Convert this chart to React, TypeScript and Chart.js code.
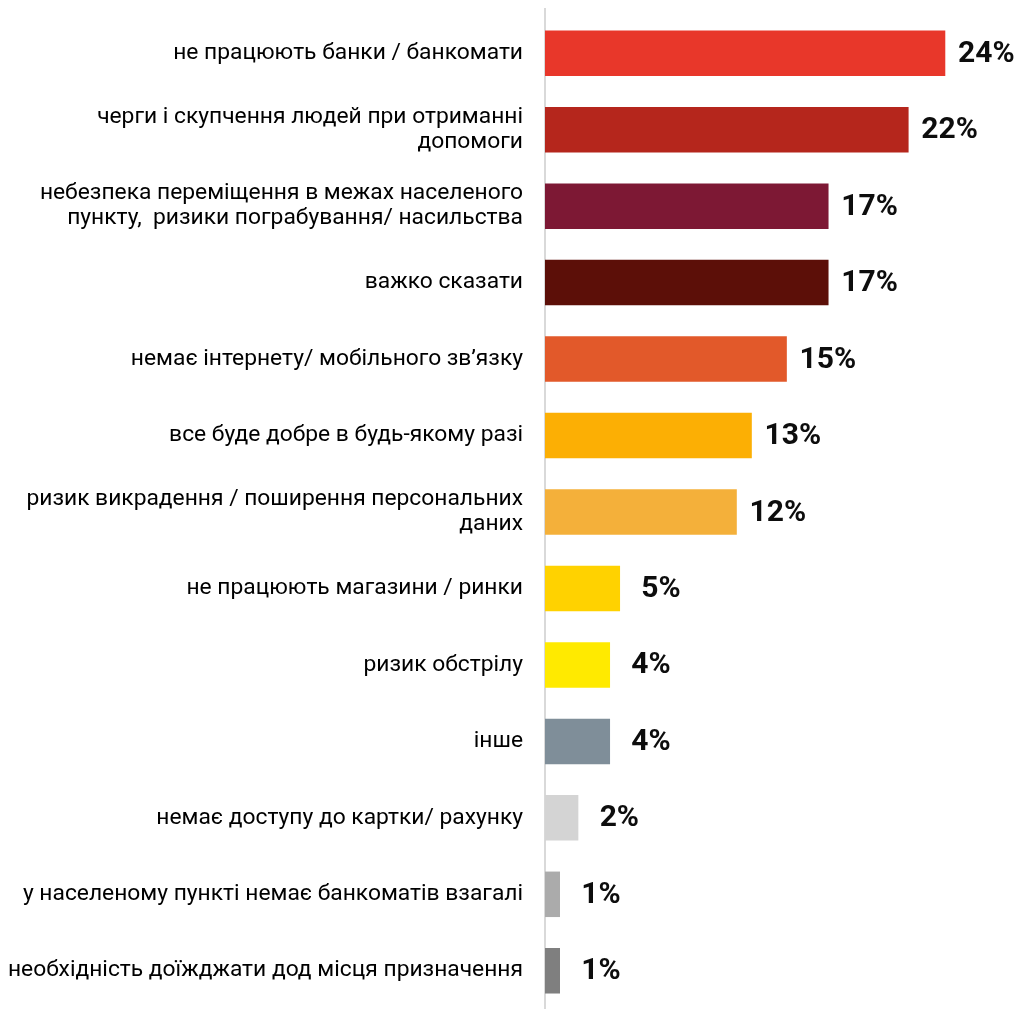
import React, { useEffect, useRef } from "react";
import { Chart, registerables } from "chart.js";

Chart.register(...registerables);

const categories: (string | string[])[] = [
  "не працюють банки / банкомати",
  ["черги і скупчення людей при отриманні", "допомоги"],
  ["небезпека переміщення в межах населеного", "пункту,  ризики пограбування/ насильства"],
  "важко сказати",
  "немає інтернету/ мобільного зв’язку",
  "все буде добре в будь-якому разі",
  ["ризик викрадення / поширення персональних", "даних"],
  "не працюють магазини / ринки",
  "ризик обстрілу",
  "інше",
  "немає доступу до картки/ рахунку",
  "у населеному пункті немає банкоматів взагалі",
  "необхідність доїжджати дод місця призначення",
];

const values: number[] = [24, 21.8, 17, 17, 14.5, 12.4, 11.5, 4.5, 3.9, 3.9, 2, 0.9, 0.9];

const valueLabels: string[] = ["24%", "22%", "17%", "17%", "15%", "13%", "12%", "5%", "4%", "4%", "2%", "1%", "1%"];

const colors: string[] = [
  "#E8372A",
  "#B5261C",
  "#7D1834",
  "#5C0F08",
  "#E2592A",
  "#FCAF04",
  "#F4B03A",
  "#FFD200",
  "#FFEA00",
  "#7F8E99",
  "#D4D4D4",
  "#ABABAB",
  "#7F7F7F",
];

export default function App() {
  const ref = useRef<HTMLCanvasElement | null>(null);

  useEffect(() => {
    document.body.style.margin = "0";
    if (!ref.current) return;

    const axisLine = {
      id: "axisLine",
      beforeDatasetsDraw(chart: any) {
        const { ctx, chartArea } = chart;
        ctx.save();
        ctx.strokeStyle = "#d9d9d9";
        ctx.lineWidth = 2;
        ctx.beginPath();
        ctx.moveTo(chartArea.left, chartArea.top - 7);
        ctx.lineTo(chartArea.left, chartArea.bottom + 2);
        ctx.stroke();
        ctx.restore();
      },
    };

    const valueLabelPlugin = {
      id: "valueLabels",
      afterDatasetsDraw(chart: any) {
        const { ctx } = chart;
        const meta = chart.getDatasetMeta(0);
        ctx.save();
        ctx.font = "bold 30px Roboto";
        ctx.fillStyle = "#0d0d0d";
        ctx.textAlign = "center";
        ctx.textBaseline = "middle";
        meta.data.forEach((bar: any, i: number) => {
          ctx.fillText(valueLabels[i], bar.x + 41, bar.y + 1);
        });
        ctx.restore();
      },
    };

    const chart = new Chart(ref.current, {
      type: "bar",
      data: {
        labels: categories,
        datasets: [
          {
            data: values,
            backgroundColor: colors,
            borderWidth: 0,
            categoryPercentage: 1,
            barPercentage: 0.595,
          },
        ],
      },
      options: {
        indexAxis: "y",
        animation: false,
        responsive: false,
        maintainAspectRatio: false,
        layout: { padding: { top: 15, bottom: 0, left: 0, right: 8 } },
        plugins: {
          legend: { display: false },
          tooltip: { enabled: false },
        },
        scales: {
          x: {
            display: false,
            min: 0,
            max: 28,
          },
          y: {
            afterFit(scale: any) {
              scale.width = 545;
              scale.paddingTop = 0;
              scale.paddingBottom = 0;
            },
            border: { display: false },
            grid: { display: false, drawTicks: false },
            ticks: {
              color: "#000",
              padding: 22,
              font: { family: "Roboto", size: 22.8, lineHeight: 1.1 },
            },
          },
        },
      },
      plugins: [axisLine, valueLabelPlugin],
    });

    return () => chart.destroy();
  }, []);

  return (
    <div style={{ width: 1020, height: 1009 }}>
      <canvas ref={ref} width={1020} height={1009} style={{ display: "block" }} />
    </div>
  );
}
